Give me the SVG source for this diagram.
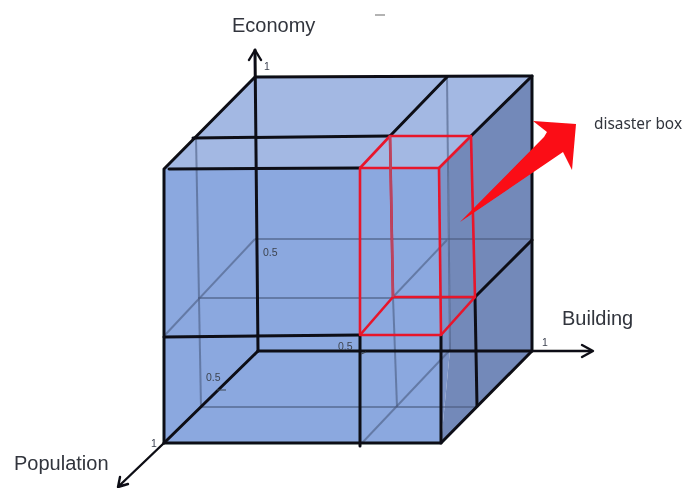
<svg xmlns="http://www.w3.org/2000/svg" width="684" height="488" viewBox="0 0 684 488">
<style>
.k{stroke:#0c0e14;stroke-width:3;fill:none;stroke-linecap:round;stroke-linejoin:round}
.a{stroke:#0c0e14;stroke-width:2.4;fill:none;stroke-linecap:round;stroke-linejoin:round}
.g{stroke:#4b5b80;stroke-width:2;fill:none;opacity:.6}
.r{stroke:#e8132c;stroke-width:2.6;fill:none;stroke-linejoin:round}
.t{font-family:"Liberation Sans",Arial,sans-serif;fill:#30343c;font-size:20px}
.s{font-family:"Liberation Sans",Arial,sans-serif;font-size:10.5px;fill:#3d4450}
</style>
<defs><filter id="b" x="-5%" y="-5%" width="110%" height="110%"><feGaussianBlur stdDeviation="0.45"/></filter></defs>
<rect width="684" height="488" fill="#fff"/>
<g id="cube" filter="url(#b)">
<g id="faces">
<polygon points="164,169 255,77 532,76 439,168" fill="#a3b8e3"/>
<polygon points="164,169 439,168 441,443 164,443" fill="#8ba8df"/>
<polygon points="439,168 448,159 450,350 441,443" fill="#7c94c8"/>
<polygon points="448,159 532,76 532,351 441,443 450,350" fill="#7389b9"/>
</g>
<g id="hidden-edges">
<line class="g" x1="196" y1="137" x2="201" y2="407"/>
<line class="g" x1="198" y1="298" x2="475" y2="298"/>
<line class="g" x1="201" y1="407" x2="476" y2="407"/>
<line class="g" x1="255" y1="239" x2="532" y2="239"/>
<line class="g" x1="255" y1="239" x2="165" y2="335"/>
<line class="g" x1="447" y1="77" x2="450" y2="350"/>
<line class="g" x1="447" y1="240" x2="393" y2="297"/>
<line class="g" x1="450" y1="350" x2="362" y2="443"/>
<line class="g" x1="393" y1="297" x2="397" y2="407"/>
</g>
<g id="edges">
<polyline class="k" points="164,443 164,169 255,77 532,76 532,351 441,443 164,443"/>
<line class="k" x1="169" y1="169" x2="360" y2="168"/>
<line class="k" x1="193" y1="138" x2="390" y2="136"/>
<line class="k" x1="390" y1="136" x2="447" y2="77"/>
<line class="k" x1="471" y1="136" x2="532" y2="76"/>
<line class="k" x1="164" y1="337" x2="360" y2="335"/>
<line class="k" x1="360" y1="335" x2="360" y2="446"/>
<line class="k" x1="441" y1="335" x2="441" y2="443"/>
<line class="k" x1="475" y1="297" x2="477" y2="406"/>
<line class="k" x1="475" y1="297" x2="532" y2="240"/>
</g>
<g id="axes">
<path class="k" d="M258,351 L255,50"/>
<path class="a" d="M249,60 L255,50 L261,60"/>
<path class="k" d="M258,351 L532,351"/>
<path class="a" d="M532,351 L591,351"/>
<path class="a" d="M582,345 L593,351 L582,357"/>
<path class="k" d="M258,351 L164,443"/>
<path class="a" d="M164,443 L120,485 M120,477 L118,487 L128,484"/>
</g>
<g id="disaster-box">
<polygon class="r" points="360,168 439,168 441,335 360,335"/>
<polygon class="r" points="390,136 471,136 475,297 393,297"/>
<line class="r" x1="360" y1="168" x2="390" y2="136"/>
<line class="r" x1="439" y1="168" x2="471" y2="136"/>
<line class="r" x1="360" y1="335" x2="393" y2="297"/>
<line class="r" x1="441" y1="335" x2="475" y2="297"/>
<line x1="390" y1="136" x2="393" y2="297" stroke="#b8455f" stroke-width="2.4"/>
</g>
<polygon id="pointer" points="460,222 544,137 547,132 533,121 576,124 572,170 563,152" fill="#fb0a12"/>
<line x1="375" y1="15" x2="385" y2="15" stroke="#9a9a9a" stroke-width="1.5"/>
<path d="M361,354 L366,352 M217,390 L226,390" stroke="#3d4450" stroke-width="1.2" fill="none"/>
</g>
<g id="labels" filter="url(#b)">
<text class="t" x="232" y="32">Economy</text>
<text class="t" x="562" y="325">Building</text>
<text class="t" x="14" y="470">Population</text>
<text x="594" y="129" font-size="15.4" font-family="'Noto Sans',sans-serif" fill="#30343c">disaster box</text>
<text class="s" x="264" y="70">1</text>
<text class="s" x="263" y="256">0.5</text>
<text class="s" x="338" y="350">0.5</text>
<text class="s" x="206" y="381">0.5</text>
<text class="s" x="151" y="447">1</text>
<text class="s" x="542" y="346">1</text>
</g>
</svg>
